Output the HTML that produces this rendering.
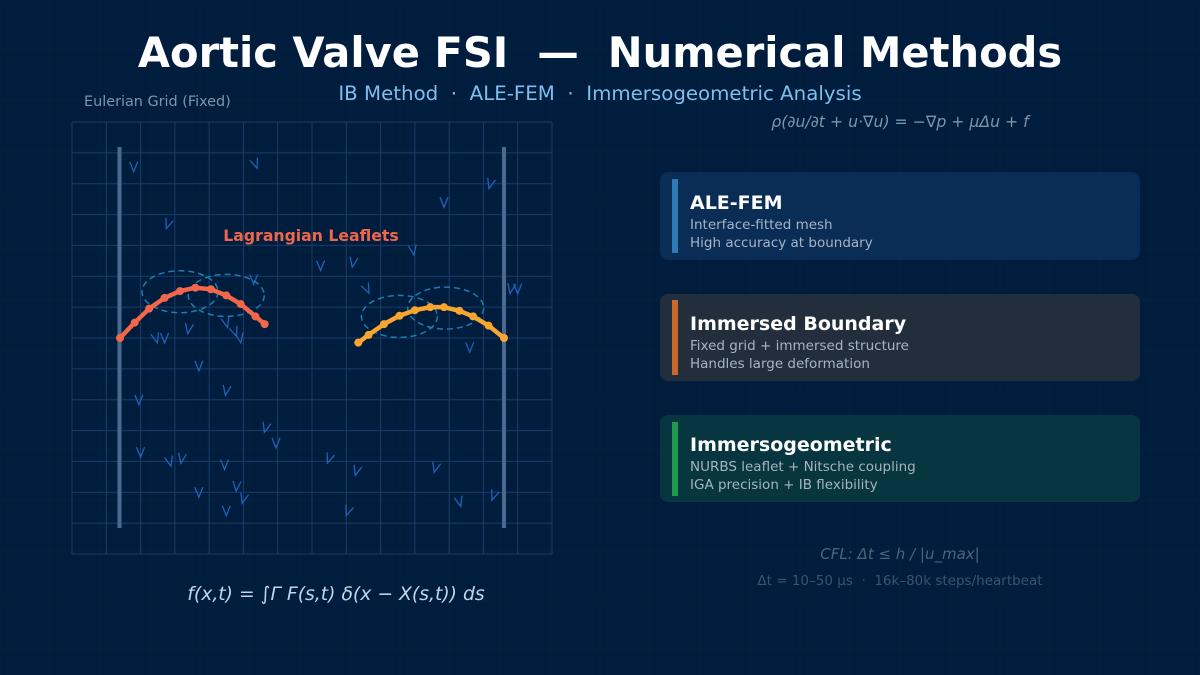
<!DOCTYPE html>
<html><head><meta charset="utf-8"><style>
html,body{margin:0;padding:0;background:#001d3d;}
svg{display:block;font-family:"DejaVu Sans","Liberation Sans",sans-serif;}
svg text{white-space:pre;}
</style></head><body>
<svg id="c" width="1200" height="675" viewBox="0 0 1200 675" xml:space="preserve">
<rect width="1200" height="675" fill="#001d3d"/>
<g id="bggrid" stroke="#03223f" stroke-width="1"></g>
<text x="600" y="67" text-anchor="middle" font-size="41.6" font-weight="bold" fill="#ffffff">Aortic Valve FSI  —  Numerical Methods</text>
<text x="600" y="100" text-anchor="middle" font-size="19.8" fill="#7fbfee">IB Method  ·  ALE-FEM  ·  Immersogeometric Analysis</text>
<text x="84" y="106" font-size="14.4" fill="#7f93ab">Eulerian Grid (Fixed)</text>
<g id="egrid"></g>
<rect x="117.5" y="147" width="4" height="381" fill="#4a6a90"/>
<rect x="502" y="147" width="4" height="381" fill="#4a6a90"/>
<g id="arrows"></g>
<g id="ells"></g>
<g id="leaf"></g>
<text x="311" y="241" text-anchor="middle" font-size="15.7" font-weight="bold" fill="#f0664a">Lagrangian Leaflets</text>
<text x="336" y="600" text-anchor="middle" font-size="18.8" font-style="italic" fill="#c0d4ea">f(x,t) = ∫Γ F(s,t) δ(x − X(s,t)) ds</text>
<text x="900" y="127" text-anchor="middle" font-size="15.7" font-style="italic" fill="#7f93ab">ρ(∂u/∂t + u·∇u) = −∇p + μΔu + f</text>

<g>
<rect x="660" y="172" width="480" height="88" rx="8" fill="#0a2d55"/>
<rect x="672" y="179" width="6" height="74" fill="#2e7ab8"/>
<text x="690" y="209" font-size="19" font-weight="bold" fill="#fff">ALE-FEM</text>
<text x="690" y="229" font-size="13.5" fill="#a5b4c6">Interface-fitted mesh</text>
<text x="690" y="247" font-size="13.5" fill="#a5b4c6">High accuracy at boundary</text>
</g>
<g>
<rect x="660" y="294" width="480" height="87" rx="8" fill="#232e3c"/>
<rect x="672" y="300" width="6" height="75" fill="#c8682a"/>
<text x="690" y="330" font-size="19" font-weight="bold" fill="#fff">Immersed Boundary</text>
<text x="690" y="350" font-size="13.5" fill="#a5b4c6">Fixed grid + immersed structure</text>
<text x="690" y="368" font-size="13.5" fill="#a5b4c6">Handles large deformation</text>
</g>
<g>
<rect x="660" y="415" width="480" height="87" rx="8" fill="#073640"/>
<rect x="672" y="422" width="6" height="74" fill="#1f9a4f"/>
<text x="690" y="451" font-size="19" font-weight="bold" fill="#fff">Immersogeometric</text>
<text x="690" y="471" font-size="13.5" fill="#a5b4c6">NURBS leaflet + Nitsche coupling</text>
<text x="690" y="489" font-size="13.5" fill="#a5b4c6">IGA precision + IB flexibility</text>
</g>
<text x="900" y="559" text-anchor="middle" font-size="15" font-style="italic" fill="#4d637c">CFL: Δt ≤ h / |u_max|</text>
<text x="900" y="585" text-anchor="middle" font-size="13.5" fill="#3d536c">Δt = 10–50 µs  ·  16k–80k steps/heartbeat</text>
</svg>
<script>
// Leaflet data in grid units (x: 0..14 cells, y: 0..14 cells from top)
const leftLeafX = [1.4,1.83,2.25,2.7,3.15,3.6,4.05,4.5,4.92,5.35,5.62];
const leftLeafY = [7.0,6.5,6.05,5.7,5.48,5.37,5.42,5.62,5.9,6.3,6.55];
const rightLeafX = [8.35,8.65,9.1,9.55,10.0,10.45,10.85,11.3,11.7,12.15,12.6];
const rightLeafY = [7.15,6.9,6.55,6.28,6.1,6.0,6.0,6.12,6.3,6.6,7.0];
const ellCx = [3.15,4.5,9.55,10.9];
const ellCy = [5.5,5.62,6.3,6.03];
const arrX = [1.8,5.35,12.2,2.8,10.85,9.95,7.25,8.2,8.6,5.3,12.8,11.6,2.45,2.7,3.4,4.5,4.75,4.9,13.0,3.7,1.95,4.5,5.65,5.95,2.0,2.85,3.2,4.45,7.5,8.3,10.6,12.3,11.3,3.7,4.8,5.0,4.5,8.05];
const arrY = [1.45,1.35,2.0,3.3,2.6,4.15,4.65,4.55,5.4,5.1,5.4,7.3,7.0,7.0,6.7,6.5,6.8,7.0,5.4,7.9,9.0,8.7,9.9,10.4,10.7,11.0,10.9,11.1,10.9,11.3,11.2,12.1,12.3,12.0,11.8,12.2,12.6,12.6];
const arrA = [0,-20,15,20,0,-10,0,10,-25,0,10,0,-15,0,10,-15,-20,-10,0,0,0,10,15,0,0,-15,10,0,20,15,15,20,-15,0,5,15,0,20];

const NS="http://www.w3.org/2000/svg";
const X0=72,Y0=122,CW=480/14,CH=432/14;
const sx=v=>X0+v*CW, sy=v=>Y0+v*CH;
function mk(t,a,p){const e=document.createElementNS(NS,t);for(const k in a)e.setAttribute(k,a[k]);p.appendChild(e);return e;}

const bg=document.getElementById('bggrid');
for(let x=0;x<=1200;x+=50){const l=mk('line',{x1:x,y1:0,x2:x,y2:675},bg);

}
for(let y=0;y<=675;y+=50){const l=mk('line',{x1:0,y1:y,x2:1200,y2:y},bg);

}

const eg=document.getElementById('egrid');
for(let i=0;i<=14;i++){
 const a=mk('line',{x1:sx(i),y1:Y0,x2:sx(i),y2:Y0+432,stroke:'#1a3c68','stroke-width':1},eg);
 
 
 const b=mk('line',{x1:X0,y1:sy(i),x2:X0+480,y2:sy(i),stroke:'#1a3c68','stroke-width':1},eg);
 
 
}

const ag=document.getElementById('arrows');
for(let i=0;i<arrX.length;i++){
 const x=sx(arrX[i]),y=sy(arrY[i]);
 const p=mk('path',{d:'M-4,-5 L0,5 L4,-5',fill:'none',stroke:'#1f63b8','stroke-width':1.3,transform:`translate(${x},${y}) rotate(${arrA[i]})`},ag);
 
 
}

const eg2=document.getElementById('ells');
for(let i=0;i<ellCx.length;i++){
 const e=mk('ellipse',{cx:sx(ellCx[i]),cy:sy(ellCy[i]),rx:38,ry:21,fill:'none',stroke:'#1a7fae','stroke-width':1.5,'stroke-dasharray':'6,4'},eg2);
 
 
}

const lg=document.getElementById('leaf');
function leaflet(xs,ys,col,name){
 const d=xs.map((v,i)=>(i?'L':'M')+sx(v)+','+sy(ys[i])).join(' ');
 const p=mk('path',{d:d,fill:'none',stroke:col,'stroke-width':4.5,'stroke-linecap':'round','stroke-linejoin':'round'},lg);
 
 
 for(let i=0;i<xs.length;i++){
  const c=mk('circle',{cx:sx(xs[i]),cy:sy(ys[i]),r:4,fill:col},lg);
  
  
 }
}
leaflet(leftLeafX,leftLeafY,'#f4664a','left-leaflet');
leaflet(rightLeafX,rightLeafY,'#f9a630','right-leaflet');
</script>
</body></html>
